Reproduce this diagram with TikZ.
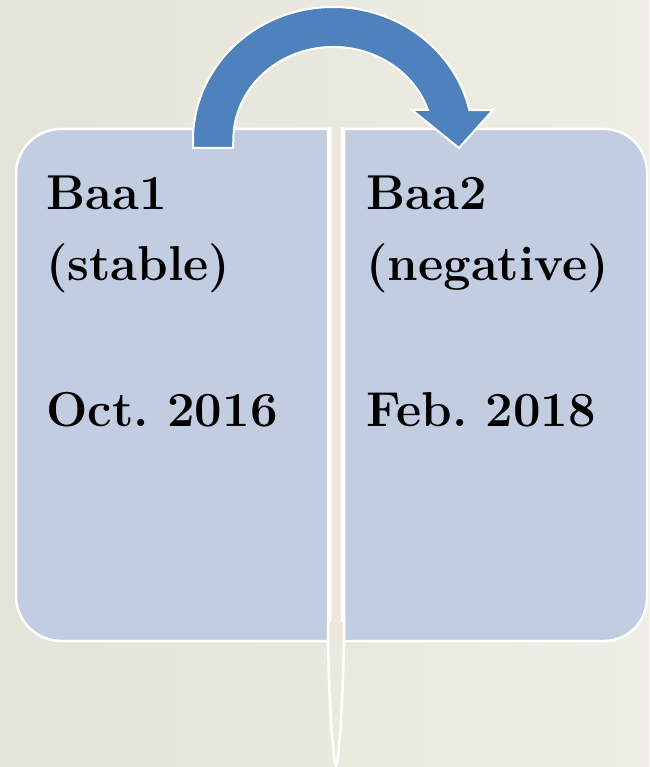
\documentclass[tikz,border=0pt]{standalone}
\usepackage{fontspec}
\definecolor{bgone}{HTML}{E6E3D8}
\definecolor{bgtwo}{HTML}{EFEDE5}
\definecolor{bgmid}{HTML}{EBE8DE}
\definecolor{boxfill}{HTML}{C3CDE2}
\definecolor{arrowblue}{HTML}{4F81BD}
\begin{document}
\frenchspacing
\begin{tikzpicture}[x=1pt,y=-1pt,
  panel/.style={fill=boxfill, draw=white, line width=2.5pt},
  bigarrow/.style={fill=arrowblue, draw=white, line width=2pt, line join=miter},
  lbl/.style={anchor=base west, inner sep=0pt, font=\fontsize{49}{58}\selectfont\bfseries}]
\fill[left color=bgone, right color=bgtwo] (0,0) rectangle (649,767);
\useasboundingbox (0,0) rectangle (649,767);
% left panel
\draw[panel] (328,129) -- (61,129) arc[start angle=270, end angle=180, radius=45]
  -- (16,596) arc[start angle=180, end angle=90, radius=45] -- (328,641) -- cycle;
% right panel
\draw[panel] (344,129) -- (604,129) arc[start angle=270, end angle=360, radius=43]
  -- (647,598) arc[start angle=0, end angle=90, radius=43] -- (344,641) -- cycle;
% divider
\fill[bgmid] (330,127) -- (330,621) -- (328,621) .. controls (328,700) and (334,766) .. (336,766)
  .. controls (338,766) and (344,700) .. (344,621) -- (342,621) -- (342,127) -- cycle;
\draw[white, line width=2.5pt, line join=round] (330,127) -- (330,621) -- (328,621) .. controls (328,700) and (334,766) .. (336,766)
  .. controls (338,766) and (344,700) .. (344,621) -- (342,621) -- (342,127);
% curved arrow
\draw[bigarrow] (193,148) -- (193,140)
  arc[start angle=180, end angle=347, x radius=140, y radius=133]
  -- (493,110) -- (459,148) -- (412,110) -- (428,110)
  arc[start angle=341.2, end angle=180, x radius=100, y radius=93]
  -- (233,148) -- cycle;
% labels
\node[lbl] (l1) at (46,209) {Baa1};
\node[lbl] (l2) at (46,280) {(stable)};
\node[lbl] (l3) at (46,426) {Oct. 2016};
\node[lbl] (r1) at (366,209) {Baa2};
\node[lbl] (r2) at (366,280) {(negative)};
\node[lbl] (r3) at (366,426) {Feb. 2018};
\end{tikzpicture}
\end{document}
